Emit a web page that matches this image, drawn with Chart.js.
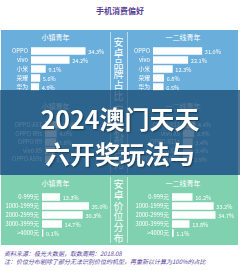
<!DOCTYPE html>
<html>
<head>
<meta charset="utf-8">
<script src="https://cdn.jsdelivr.net/npm/chart.js@4"></script>
<style>
  body { margin: 0; width: 240px; height: 271px; background: #fff; overflow: hidden; font-family: "Noto Sans CJK SC", "Noto Sans", sans-serif; }
  #wrap { position: relative; width: 240px; height: 271px; }
  .abs { position: absolute; }
  canvas { position: absolute; }
  .hdr { position: absolute; color: #fff; font-size: 7px; text-align: center; line-height: 8px; }
  .vt { position: absolute; color: #fff; font-size: 10px; line-height: 10.8px; width: 12px; text-align: center; word-break: break-all; }
  .vline { position: absolute; width: 1px; background: rgba(255,255,255,0.55); }
</style>
</head>
<body>
<div id="wrap">
  <div class="abs" style="left:0;top:6px;width:240px;text-align:center;color:#5b3f96;font-size:8px;font-weight:bold;line-height:10px;">手机消费偏好</div>

  <div class="abs" style="left:1px;top:30px;width:237px;height:145px;background:#6aaedb;"></div>
  <div class="abs" style="left:1px;top:175px;width:237px;height:70px;background:#80d1af;"></div>

  <div class="vline" style="left:110px;top:32px;height:141px;"></div>
  <div class="vline" style="left:127px;top:32px;height:141px;"></div>
  <div class="vline" style="left:110px;top:177px;height:66px;"></div>
  <div class="vline" style="left:127px;top:177px;height:66px;"></div>

  <div class="vt" style="left:112.5px;top:37px;">安卓品牌占比</div>
  <div class="vt" style="left:112.5px;top:105px;">安卓机型占比</div>
  <div class="vt" style="left:112.5px;top:179px;">安卓价位分布</div>

  <div class="hdr" style="left:1px;top:33px;width:109px;">小镇青年</div>
  <div class="hdr" style="left:128px;top:33px;width:110px;">一二线青年</div>
  <div class="hdr" style="left:1px;top:102px;width:109px;">小镇青年</div>
  <div class="hdr" style="left:128px;top:102px;width:110px;">一二线青年</div>
  <div class="hdr" style="left:1px;top:179px;width:109px;">小镇青年</div>
  <div class="hdr" style="left:128px;top:179px;width:110px;">一二线青年</div>

  <canvas id="brandTown" width="108" height="58" style="left:2px;top:40px;"></canvas>
  <canvas id="brandCity" width="111" height="58" style="left:127px;top:40px;"></canvas>
  <canvas id="modelTown" width="108" height="56" style="left:2px;top:114px;"></canvas>
  <canvas id="modelCity" width="111" height="56" style="left:127px;top:114px;"></canvas>
  <canvas id="priceTown" width="108" height="58" style="left:2px;top:186px;"></canvas>
  <canvas id="priceCity" width="111" height="58" style="left:127px;top:186px;"></canvas>

  <div class="abs" style="left:0;top:90px;width:240px;height:85px;background:rgba(22,72,112,0.72);"></div>
  <div class="abs" style="left:0;top:102px;width:240px;text-align:center;color:#fff;font-size:25px;font-weight:bold;line-height:32px;text-shadow:1px 1px 2px rgba(0,0,0,0.45);">2024澳门天天</div>
  <div class="abs" style="left:0;top:137px;width:240px;text-align:center;color:#fff;font-size:25px;font-weight:bold;line-height:32px;text-shadow:1px 1px 2px rgba(0,0,0,0.45);">六开奖玩法与</div>

  <div class="abs" style="left:4px;top:250px;color:#5a46a0;font-size:6px;font-style:italic;line-height:8px;white-space:nowrap;">资料来源：极光大数据，取数周期：2018.08</div>
  <div class="abs" style="left:4px;top:258px;color:#5a46a0;font-size:6px;font-style:italic;line-height:8px;white-space:nowrap;">注：价位分布剔除了部分无法识别价位的机型，再重新以计算为100%的占比</div>
</div>

<script>
// brand share
const brands = ['OPPO', 'vivo', '小米', '荣耀', '华为'];
const brandTown = [34.3, 24.2, 9.1, 5.6, 4.9];
const brandCity = [31.0, 22.1, 12.3, 6.8, 6.5];

// top models
const modelTownLabels = ['OPPO A57', 'OPPO R9s', 'OPPO R9', 'vivo X9', 'OPPO A59s'];
const modelTown = [5.4, 4.0, 3.8, 3.4, 2.9];
const modelCityLabels = ['OPPO R11', 'vivo X9', 'OPPO R11s', 'vivo X20', 'OPPO R11 巴萨版'];
const modelCity = [4.4, 3.9, 3.4, 3.4, 2.9];

// price range
const priceLabels = ['0-999元', '1000-1999元', '2000-2999元', '3000-3999元', '>4000元'];
const priceTown = [13.3, 35.0, 30.3, 14.7, 0.1];
const priceCity = [16.2, 33.2, 34.7, 13.8, 1.1];

const FONT = '"Noto Sans CJK SC", "Noto Sans", sans-serif';

// write the % value to the right of each bar
const valueLabels = {
    id: 'valueLabels',
    afterDatasetsDraw(chart) {
        const ctx = chart.ctx;
        const meta = chart.getDatasetMeta(0);
        ctx.save();
        ctx.fillStyle = '#ffffff';
        ctx.font = '5.6px ' + FONT;
        ctx.textBaseline = 'middle';
        meta.data.forEach((bar, i) => {
            const v = chart.data.datasets[0].data[i];
            ctx.fillText(v.toFixed(1) + '%', bar.x + 3, bar.y + 0.5);
        });
        ctx.restore();
    }
};

function makeBar(id, labels, values, max, axisWidth) {
    const ctx = document.getElementById(id).getContext('2d');
    new Chart(ctx, {
        type: 'bar',
        data: {
            labels: labels,
            datasets: [{
                data: values,
                backgroundColor: '#ffffff',
                barThickness: 7,
                minBarLength: 1
            }]
        },
        options: {
            indexAxis: 'y',
            responsive: false,
            animation: false,
            layout: { padding: 0 },
            plugins: { legend: { display: false }, tooltip: { enabled: false } },
            scales: {
                x: { display: false, min: 0, max: max },
                y: {
                    grid: { display: false, drawTicks: false },
                    border: { display: false },
                    ticks: { color: '#ffffff', padding: 3, font: { size: 5.8, family: FONT } },
                    afterFit: s => { s.width = axisWidth; }
                }
            }
        },
        plugins: [valueLabels]
    });
}

makeBar('brandTown', brands, brandTown, 50, 29);
makeBar('brandCity', brands, brandCity, 54, 26);
makeBar('modelTown', modelTownLabels, modelTown, 23, 43);
makeBar('modelCity', modelCityLabels, modelCity, 20, 56);
makeBar('priceTown', priceLabels, priceTown, 51, 40);
makeBar('priceCity', priceLabels, priceCity, 53, 45);
</script>
</body>
</html>
